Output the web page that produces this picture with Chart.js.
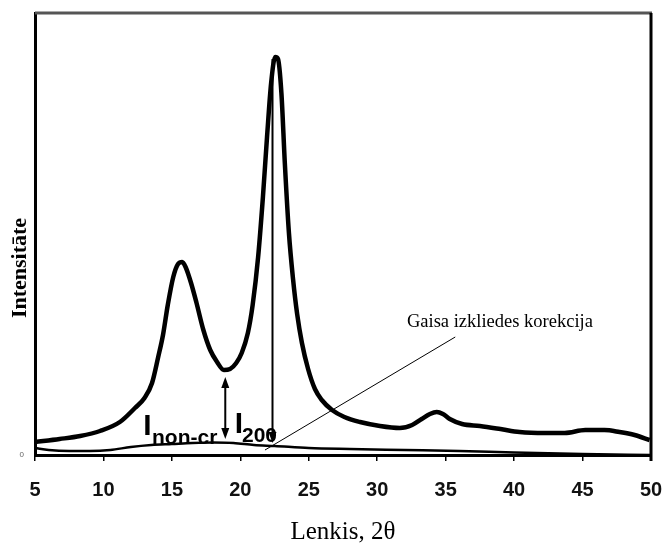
<!DOCTYPE html>
<html>
<head>
<meta charset="utf-8">
<script src="https://cdn.jsdelivr.net/npm/chart.js@4.4.1/dist/chart.umd.min.js"></script>
<style>
  html, body { margin: 0; padding: 0; background: #fff; }
  #wrap { width: 665px; height: 547px; position: relative; }
</style>
</head>
<body>
<div id="wrap"><canvas id="c" width="665" height="547"></canvas></div>
<script>
// ---- data ----
const xTitle = 'Lenkis, 2θ';
const yTitle = 'Intensitāte';
const angleTicks = [5, 10, 15, 20, 25, 30, 35, 40, 45, 50];

// measured diffractogram (2θ in degrees, intensity in arbitrary units)
const measAngle = [5.0, 6.8, 8.3, 9.75, 11.2, 12.3, 13.0, 13.55, 14.0, 14.35, 14.7, 15.1, 15.45, 15.75, 16.0, 16.4, 16.8, 17.3, 17.8, 18.3, 18.8, 19.25, 19.7, 20.1, 20.55, 20.9, 21.3, 21.65, 21.95, 22.25, 22.55, 22.75, 23.0, 23.25, 23.55, 23.85, 24.15, 24.5, 24.95, 25.45, 25.95, 26.7, 27.6, 28.75, 30.2, 31.65, 32.55, 33.25, 33.85, 34.35, 34.8, 35.3, 36.2, 37.5, 39.0, 40.4, 42.25, 43.7, 45.2, 46.6, 47.7, 48.8, 49.9];
const measInt   = [13, 16, 19, 24, 33, 47, 57, 72, 98, 120, 150, 178, 191, 193, 188, 172, 152, 125, 105, 93, 85, 86, 92, 102, 122, 150, 198, 258, 318, 372, 398, 396, 362, 292, 222, 176, 141, 112, 86, 66, 55, 45, 38, 33, 29, 27, 30, 36, 41, 43, 41, 36, 31, 29, 26, 23, 22, 22, 25, 25, 23, 20, 15];

// air-scatter correction curve
const baseAngle = [5, 6, 7.5, 9, 10.5, 12, 13.5, 15, 16.5, 18, 19.5, 21, 22.5, 25, 28, 32, 36, 40, 45, 50];
const baseInt   = [7, 5, 4, 4, 5, 8, 10, 11, 12, 12.5, 12, 10, 9, 7, 6, 5, 4, 2.5, 1, 0];

// annotations (data units)
const arrowNonCr = { x: 18.9, from: 78, to: 16 };
const arrow200   = { x: 22.35, from: 396, to: 12 };
const leader     = { x1: 35.7, y1: 118, x2: 21.8, y2: 5 };
const labelGas   = { text: 'Gaisa izkliedes korekcija', x: 32.17, y: 128 };
const labelNonCr = { main: 'I', sub: 'non-cr', x: 12.9, y: 20, subX: 13.55, subY: 11 };
const label200   = { main: 'I', sub: '200', x: 19.6, y: 22, subX: 20.12, subY: 13 };

const measured = measAngle.map((a, i) => ({ x: a, y: measInt[i] }));
const baseline = baseAngle.map((a, i) => ({ x: a, y: baseInt[i] }));

function arrowHead(ctx, x, y, dir) { // dir: 1 = pointing down, -1 = up
  ctx.beginPath();
  ctx.moveTo(x, y);
  ctx.lineTo(x - 4, y - dir * 11);
  ctx.lineTo(x + 4, y - dir * 11);
  ctx.closePath();
  ctx.fill();
}

const annotPlugin = {
  id: 'annot',
  afterDatasetsDraw(chart) {
    const { ctx, chartArea: ca, scales: { x, y } } = chart;
    ctx.save();
    // frame: top (gray) and right (black)
    ctx.strokeStyle = '#555'; ctx.lineWidth = 3;
    ctx.beginPath(); ctx.moveTo(ca.left, ca.top); ctx.lineTo(ca.right + 1, ca.top); ctx.stroke();
    ctx.strokeStyle = '#000';
    ctx.beginPath(); ctx.moveTo(ca.right, ca.top); ctx.lineTo(ca.right, ca.bottom + 6); ctx.stroke();

    // y axis title
    ctx.save();
    ctx.translate(20, 268);
    ctx.rotate(-Math.PI / 2);
    ctx.fillStyle = '#000';
    ctx.textAlign = 'center'; ctx.textBaseline = 'middle';
    ctx.font = 'bold 22px "Liberation Serif", "Times New Roman", serif';
    ctx.fillText(yTitle, 0, 0);
    ctx.restore();

    ctx.fillStyle = '#000'; ctx.strokeStyle = '#000';
    // double arrow (I non-cr)
    let px = x.getPixelForValue(arrowNonCr.x);
    let y1 = y.getPixelForValue(arrowNonCr.from), y2 = y.getPixelForValue(arrowNonCr.to);
    ctx.lineWidth = 2;
    ctx.beginPath(); ctx.moveTo(px, y1 + 6); ctx.lineTo(px, y2 - 6); ctx.stroke();
    arrowHead(ctx, px, y1, -1);
    arrowHead(ctx, px, y2, 1);
    // I200 arrow
    px = x.getPixelForValue(arrow200.x);
    y1 = y.getPixelForValue(arrow200.from); y2 = y.getPixelForValue(arrow200.to);
    ctx.beginPath(); ctx.moveTo(px, y1); ctx.lineTo(px, y2 - 6); ctx.stroke();
    arrowHead(ctx, px, y2, 1);
    // leader line
    ctx.lineWidth = 1;
    ctx.beginPath();
    ctx.moveTo(x.getPixelForValue(leader.x1), y.getPixelForValue(leader.y1));
    ctx.lineTo(x.getPixelForValue(leader.x2), y.getPixelForValue(leader.y2));
    ctx.stroke();
    // texts
    ctx.textAlign = 'left'; ctx.textBaseline = 'alphabetic';
    ctx.font = '18.5px "Liberation Serif", "Times New Roman", serif';
    ctx.fillText(labelGas.text, x.getPixelForValue(labelGas.x), y.getPixelForValue(labelGas.y));
    for (const L of [labelNonCr, label200]) {
      ctx.font = 'bold 30px "Liberation Sans", Arial, sans-serif';
      ctx.fillText(L.main, x.getPixelForValue(L.x), y.getPixelForValue(L.y));
      ctx.font = 'bold 21px "Liberation Sans", Arial, sans-serif';
      ctx.fillText(L.sub, x.getPixelForValue(L.subX), y.getPixelForValue(L.subY));
    }
    ctx.restore();
  }
};

new Chart(document.getElementById('c'), {
  type: 'line',
  data: {
    datasets: [
      { label: 'baseline', data: baseline, borderColor: '#000', borderWidth: 2.5, pointRadius: 0, cubicInterpolationMode: 'monotone', fill: false },
      { label: 'measured', data: measured, borderColor: '#000', borderWidth: 4.5, pointRadius: 0, cubicInterpolationMode: 'monotone', fill: false, borderJoinStyle: 'round' }
    ]
  },
  options: {
    responsive: false,
    animation: false,
    layout: { padding: { top: 13, right: 14, left: 0, bottom: 0 } },
    plugins: { legend: { display: false }, tooltip: { enabled: false } },
    scales: {
      x: {
        type: 'linear', min: 5, max: 50,
        afterFit(s) { s.height = 92; s.paddingLeft = 0; s.paddingRight = 0; },
        afterBuildTicks(s) { s.ticks = angleTicks.map(v => ({ value: v })); },
        border: { display: true, color: '#000', width: 3 },
        grid: { display: true, drawOnChartArea: false, drawTicks: true, tickLength: 6, color: '#000', lineWidth: 1.5 },
        ticks: { color: '#111', padding: 17, maxRotation: 0, font: { family: '"Liberation Sans", Arial, sans-serif', size: 20, weight: 'bold' } },
        title: { display: true, text: xTitle, color: '#000', padding: { top: 0, bottom: 0 }, font: { family: '"Liberation Serif", "Times New Roman", serif', size: 25 } }
      },
      y: {
        type: 'linear', min: 0, max: 442,
        afterFit(s) { s.width = 35; s.paddingTop = 0; s.paddingBottom = 0; },
        afterBuildTicks(s) { s.ticks = [{ value: 0 }]; },
        border: { display: true, color: '#000', width: 3 },
        grid: { display: false, drawTicks: false },
        ticks: { color: '#666', padding: 11, font: { family: '"Liberation Sans", Arial, sans-serif', size: 8 } },
        title: { display: false }
      }
    }
  },
  plugins: [annotPlugin]
});
</script>
</body>
</html>
